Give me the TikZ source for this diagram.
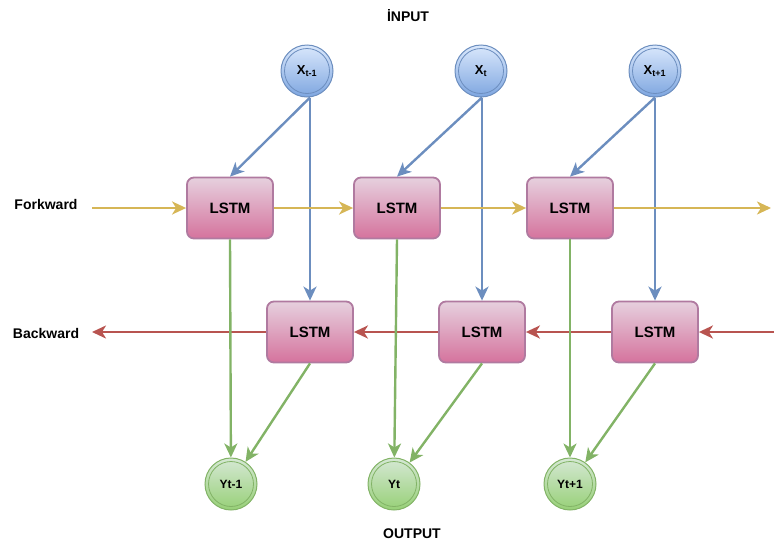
\documentclass[tikz,border=0pt]{standalone}
\usepackage{fontspec}
\setmainfont{Liberation Sans}
\usepackage{tikz}
\usetikzlibrary{arrows.meta}
\definecolor{bluefill}{HTML}{DAE8FC}
\definecolor{bluegrad}{HTML}{7EA6E0}
\definecolor{bluestroke}{HTML}{6C8EBF}
\definecolor{pinkfill}{HTML}{E6D0DE}
\definecolor{pinkgrad}{HTML}{D5739D}
\definecolor{pinkstroke}{HTML}{B07AA0}
\definecolor{greenfill}{HTML}{D5E8D4}
\definecolor{greengrad}{HTML}{97D077}
\definecolor{greenstroke}{HTML}{82B366}
\definecolor{fwdcol}{HTML}{D6B656}
\definecolor{bwdcol}{HTML}{B85450}
\def\cellw{86pt}
\def\cellh{61pt}
\def\ringr{52pt}

\begin{document}
\begin{tikzpicture}[x=1pt, y=-1pt,
		font=\bfseries,
		lbl/.style={font=\fontsize{14}{16}\selectfont\bfseries},
		lstm/.style={draw=pinkstroke, line width=1.8pt, rounded corners=7pt,
			top color=pinkfill, bottom color=pinkgrad,
			minimum width=\cellw, minimum height=\cellh,
			font=\fontsize{15}{17}\selectfont\bfseries},
		ring/.style={circle, line width=1pt, minimum size=\ringr, inner sep=0pt,
			path picture={\draw[#1, line width=0.8pt] (path picture bounding box.center) circle (22.5pt);}},
		xnode/.style={ring=bluestroke, draw=bluestroke, top color=bluefill, bottom color=bluegrad,
			font=\fontsize{13}{15}\selectfont\bfseries},
		ynode/.style={ring=greenstroke, draw=greenstroke, top color=greenfill, bottom color=greengrad,
			font=\fontsize{12}{14}\selectfont\bfseries},
		link/.style={line width=2.4pt, -{Stealth[length=14pt, width=13pt, inset=4pt]}},
	]
		\useasboundingbox (0,0) rectangle (774,544);
		\node (inp) at (408,16) {\fontsize{14}{16}\selectfont İNPUT};
		\node (outp) at (412,534) {\fontsize{14}{16}\selectfont OUTPUT};
		\node[lbl] (fwd) at (46,204) {Forkward};
		\node[lbl] (bwd) at (46,333) {Backward};

		\node[xnode] (x1) at (307,71) {X\textsubscript{t-1}};
		\node[xnode] (x2) at (481,71) {X\textsubscript{t}};
		\node[xnode] (x3) at (655,71) {X\textsubscript{t+1}};

		\node[lstm] (f1) at (230,208) {LSTM};
		\node[lstm] (f2) at (397,208) {LSTM};
		\node[lstm] (f3) at (570,208) {LSTM};

		\node[lstm] (b1) at (310,332) {LSTM};
		\node[lstm] (b2) at (482,332) {LSTM};
		\node[lstm] (b3) at (655,332) {LSTM};

		\node[ynode] (y1) at (231,484) {Yt-1};
		\node[ynode] (y2) at (394,484) {Yt};
		\node[ynode] (y3) at (570,484) {Yt+1};

		\coordinate (x1o) at (b1.north |- x1.south);
		\coordinate (x2o) at (b2.north |- x2.south);
		\coordinate (x3o) at (b3.north |- x3.south);
		\coordinate (fin) at (92,208);
		\coordinate (fout) at (771,208);
		\coordinate (bin) at (774,332);
		\coordinate (bout) at (92,332);

		\draw[link, bluestroke] (x1o) -- (f1.north);
		\draw[link, bluestroke] (x1o) -- (b1.north);
		\draw[link, bluestroke] (x2o) -- (f2.north);
		\draw[link, bluestroke] (x2o) -- (b2.north);
		\draw[link, bluestroke] (x3o) -- (f3.north);
		\draw[link, bluestroke] (x3o) -- (b3.north);

		\draw[link, fwdcol] (fin) -- (f1);
		\draw[link, fwdcol] (f1) -- (f2);
		\draw[link, fwdcol] (f2) -- (f3);
		\draw[link, fwdcol] (f3) -- (fout);

		\draw[link, bwdcol] (bin) -- (b3);
		\draw[link, bwdcol] (b3) -- (b2);
		\draw[link, bwdcol] (b2) -- (b1);
		\draw[link, bwdcol] (b1) -- (bout);

		\draw[link, greenstroke] (f1.south) -- (y1);
		\draw[link, greenstroke] (b1.south) -- (y1);
		\draw[link, greenstroke] (f2.south) -- (y2);
		\draw[link, greenstroke] (b2.south) -- (y2);
		\draw[link, greenstroke] (f3.south) -- (y3);
		\draw[link, greenstroke] (b3.south) -- (y3);
	\end{tikzpicture}
\end{document}
